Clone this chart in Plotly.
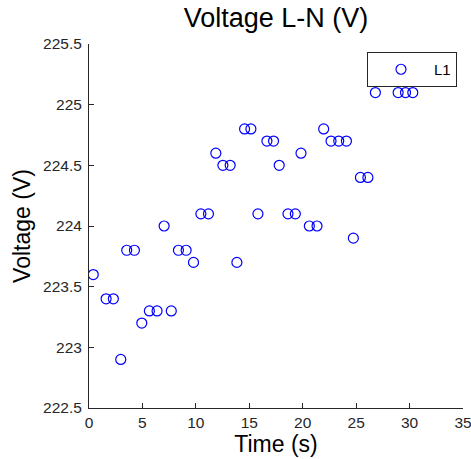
import plotly.graph_objects as go

time_s = [0.4, 1.6, 2.28, 2.97, 3.53, 4.25, 4.94, 5.65, 6.37, 7.03, 7.7, 8.37, 9.09, 9.78,
          10.47, 11.18, 11.87, 12.53, 13.21, 13.84, 14.56, 15.15, 15.81, 16.65, 17.27, 17.8,
          18.62, 19.31, 19.84, 20.62, 21.34, 21.96, 22.65, 23.37, 24.09, 24.74, 25.4, 26.1,
          26.8, 27.5, 28.2, 28.93, 29.62, 30.3]
voltage_l1 = [223.6, 223.4, 223.4, 222.9, 223.8, 223.8, 223.2, 223.3, 223.3, 224.0, 223.3,
              223.8, 223.8, 223.7, 224.1, 224.1, 224.6, 224.5, 224.5, 223.7, 224.8, 224.8,
              224.1, 224.7, 224.7, 224.5, 224.1, 224.1, 224.6, 224.0, 224.0, 224.8, 224.7,
              224.7, 224.7, 223.9, 224.4, 224.4, 225.1, 225.2, 225.2, 225.1, 225.1, 225.1]
x_ticks = [0, 5, 10, 15, 20, 25, 30, 35]
y_ticks = [222.5, 223, 223.5, 224, 224.5, 225, 225.5]
y_tick_labels = ["222.5", "223", "223.5", "224", "224.5", "225", "225.5"]

FONT = "Liberation Sans, Arial"

fig = go.Figure()
fig.add_trace(go.Scatter(
    x=time_s, y=voltage_l1, mode="markers", name="L1",
    marker=dict(symbol="circle-open", size=10, color="#0000FF", line=dict(width=1.2, color="#0000FF")),
))

axis_common = dict(
    showgrid=False, zeroline=False, showline=True, linecolor="#262626", linewidth=1,
    ticks="inside", ticklen=5, tickcolor="#262626", tickwidth=1,
    tickfont=dict(family=FONT, size=15.5, color="#262626"),
    ticklabeloverflow="allow",
    automargin=False,
)

fig.update_layout(
    width=471, height=459,
    margin=dict(l=89, r=8, t=44, b=51),
    paper_bgcolor="white", plot_bgcolor="white",
    title=dict(text="Voltage L-N (V)", x=(89 + 463) / 2 / 471, xanchor="center",
               y=1 - 18 / 459, yanchor="middle",
               font=dict(family=FONT, size=27, color="black")),
    xaxis=dict(range=[0, 35], tickvals=x_ticks,
               title=dict(text="Time (s)", font=dict(family=FONT, size=23, color="black"), standoff=4),
               **axis_common),
    yaxis=dict(range=[222.5, 225.5], tickvals=y_ticks, ticktext=y_tick_labels,
               title=dict(text="Voltage (V)", font=dict(family=FONT, size=23, color="black"), standoff=6),
               ticklabelstandoff=3,
               **axis_common),
    showlegend=True,
    legend=dict(x=(457 - 89) / 374, xanchor="right", y=(408 - 52) / 364, yanchor="top",
                bgcolor="white", bordercolor="#262626", borderwidth=1,
                font=dict(family=FONT, size=15, color="black"),
                itemwidth=56),
)

fig.write_html("out.html",
               config={"displayModeBar": False},
               post_script="document.body.style.margin='0px';document.body.style.overflow='hidden';")
